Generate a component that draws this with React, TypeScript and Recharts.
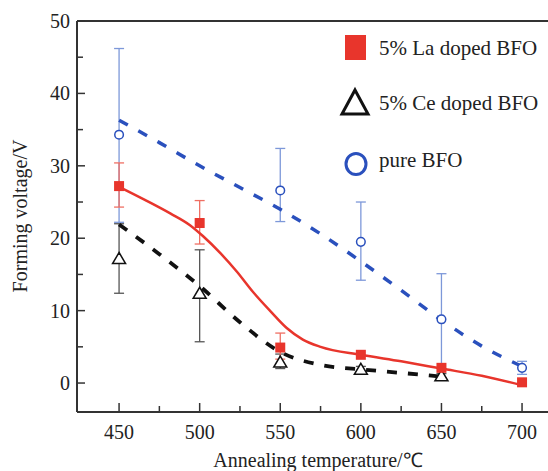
import { ComposedChart, Line, Scatter, ErrorBar, XAxis, YAxis, ReferenceLine, Legend } from 'recharts';

// measured points
const laTemps = [450, 500, 550, 600, 650, 700];
const laVals = [27.2, 22.1, 4.9, 3.9, 2.1, 0.1];
const laLow = [24.3, 19.2, 3.3, null, null, null];
const laHigh = [30.4, 25.2, 6.9, null, null, null];

const ceTemps = [450, 500, 550, 600, 650];
const ceVals = [17.2, 12.4, 2.9, 1.9, 1.0];
const ceLow = [12.4, 5.7, 2.0, 1.5, 0.7];
const ceHigh = [22.0, 18.4, 4.0, 2.3, 1.3];

const pureTemps = [450, 550, 600, 650, 700];
const pureVals = [34.3, 26.6, 19.5, 8.8, 2.1];
const pureLow = [22.2, 22.3, 14.2, 2.0, 1.2];
const pureHigh = [46.2, 32.4, 25.0, 15.1, 3.0];

// fitted curves
const laFitT = [450, 466, 482, 494, 502, 513, 523, 533, 544, 554, 564, 575, 600, 625, 650, 675, 700];
const laFitV = [27.1, 25.3, 23.4, 21.8, 20.3, 17.9, 15.4, 12.6, 9.9, 7.6, 6.0, 5.0, 3.9, 3.0, 2.0, 1.0, -0.3];
const ceFitT = [450, 475, 500, 525, 550, 575, 600, 625, 650];
const ceFitV = [21.9, 17.8, 13.4, 8.4, 4.3, 2.5, 1.9, 1.4, 0.9];
const pureFitT = [450, 475, 500, 525, 550, 575, 600, 625, 650, 675, 700];
const pureFitV = [36.3, 33.2, 30.0, 27.0, 24.0, 20.6, 16.8, 12.8, 8.7, 5.1, 2.3];

const xTicks = [450, 475, 500, 525, 550, 575, 600, 625, 650, 675, 700];
const yTicks = [0, 5, 10, 15, 20, 25, 30, 35, 40, 45, 50];

const FONT = '"Liberation Serif", "Times New Roman", serif';
const AXIS = '#333';
const RED = '#e8352c';
const BLUE = '#2a50bd';

function points(t: number[], v: number[], lo?: (number | null)[], hi?: (number | null)[]) {
  return t.map((x, i) => {
    const l = lo ? lo[i] : null;
    const h = hi ? hi[i] : null;
    return { x, y: v[i], err: l == null || h == null ? null : [v[i] - l, h - v[i]] };
  });
}

const laData = points(laTemps, laVals, laLow, laHigh);
const ceData = points(ceTemps, ceVals, ceLow, ceHigh);
const pureData = points(pureTemps, pureVals, pureLow, pureHigh);
const laFit = points(laFitT, laFitV);
const ceFit = points(ceFitT, ceFitV);
const pureFit = points(pureFitT, pureFitV);

const XTick = (props: any) => {
  const { x, y, payload } = props;
  const major = payload.value % 50 === 0;
  return (
    <g>
      <line x1={x} y1={y} x2={x} y2={y - (major ? 9 : 6)} stroke={AXIS} strokeWidth={1.5} />
      {major && (
        <text x={x} y={y + 27} textAnchor="middle" fontSize={20} fontFamily={FONT} fill="#222">
          {payload.value}
        </text>
      )}
    </g>
  );
};

const YTick = (props: any) => {
  const { x, y, payload } = props;
  const major = payload.value % 10 === 0;
  return (
    <g>
      <line x1={x} y1={y} x2={x + (major ? 8 : 6)} y2={y} stroke={AXIS} strokeWidth={1.5} />
      {major && (
        <text x={x - 7} y={y + 7} textAnchor="end" fontSize={20} fontFamily={FONT} fill="#222">
          {payload.value}
        </text>
      )}
    </g>
  );
};

const Square = ({ cx, cy }: any) => <rect x={cx - 5} y={cy - 5} width={10} height={10} fill={RED} />;
const Tri = ({ cx, cy }: any) => (
  <path d={`M${cx},${cy - 6} L${cx + 6.5},${cy + 5} L${cx - 6.5},${cy + 5} Z`} fill="#fff" stroke="#111" strokeWidth={1.5} />
);
const Ring = ({ cx, cy }: any) => <circle cx={cx} cy={cy} r={4.3} fill="#fff" stroke={BLUE} strokeWidth={1.5} />;

const legendRows = [
  { label: '5% La doped BFO', top: 0 },
  { label: '5% Ce doped BFO', top: 55 },
  { label: 'pure BFO', top: 112 },
];

const renderLegend = () => (
  <div style={{ position: 'relative', width: 213, height: 160, fontFamily: FONT, fontSize: 21, color: '#222' }}>
    <svg width={40} height={160} style={{ position: 'absolute', left: 0, top: 0 }}>
      <rect x={10} y={10} width={21} height={25} fill={RED} />
      <path d="M20,65 L33,89 L7,89 Z" fill="none" stroke="#111" strokeWidth={3} />
      <ellipse cx={21} cy={139} rx={10} ry={10.5} fill="none" stroke={BLUE} strokeWidth={3} />
    </svg>
    {legendRows.map((r) => (
      <div key={r.label} style={{ position: 'absolute', left: 44, top: r.top + 9, lineHeight: '28px', whiteSpace: 'nowrap' }}>
        {r.label}
      </div>
    ))}
  </div>
);

const YLabel = () => (
  <text
    x={20}
    y={216}
    transform="rotate(-90, 20, 216)"
    textAnchor="middle"
    dominantBaseline="central"
    fontSize={20}
    fontFamily={FONT}
    fill="#222"
  >
    Forming voltage/V
  </text>
);

const XLabel = () => (
  <text x={318} y={467} textAnchor="middle" fontSize={20} fontFamily={FONT} fill="#222">
    Annealing temperature/℃
  </text>
);

export default function App() {
  return (
    <div style={{ position: 'absolute', left: 0, top: 0, background: '#fff' }}>
      <ComposedChart width={548} height={471} margin={{ top: 21, right: 0, bottom: 0, left: 0 }}>
        <XAxis
          dataKey="x"
          type="number"
          domain={[423.9, 716.1]}
          allowDataOverflow
          ticks={xTicks}
          interval={0}
          tickSize={0}
          tickMargin={0}
          tickLine={false}
          tick={<XTick />}
          height={59}
          stroke={AXIS}
          strokeWidth={2}
          label={<XLabel />}
        />
        <YAxis
          dataKey="y"
          type="number"
          domain={[-4, 50]}
          allowDataOverflow
          ticks={yTicks}
          interval={0}
          tickSize={0}
          tickMargin={0}
          tickLine={false}
          tick={<YTick />}
          width={77}
          stroke={AXIS}
          strokeWidth={2}
          label={<YLabel />}
        />
        <ReferenceLine y={50} stroke={AXIS} strokeWidth={2} />
        <Legend
          layout="vertical"
          align="center"
          verticalAlign="middle"
          wrapperStyle={{ top: 25, left: 335, width: 213, height: 160 }}
          content={renderLegend}
        />
        <Scatter data={pureData} shape={<Ring />} isAnimationActive={false}>
          <ErrorBar dataKey="err" direction="y" width={5} stroke="#7d98d9" strokeWidth={1.3} />
        </Scatter>
        <Scatter data={ceData} shape={<Tri />} isAnimationActive={false}>
          <ErrorBar dataKey="err" direction="y" width={5} stroke="#555" strokeWidth={1.3} />
        </Scatter>
        <Scatter data={laData} shape={<Square />} isAnimationActive={false}>
          <ErrorBar dataKey="err" direction="y" width={5} stroke="#ef6f63" strokeWidth={1.3} />
        </Scatter>
        <Line data={pureFit} dataKey="y" type="monotone" stroke={BLUE} strokeWidth={3.5} strokeDasharray="10 12" dot={false} isAnimationActive={false} />
        <Line data={ceFit} dataKey="y" type="monotone" stroke="#111" strokeWidth={3.8} strokeDasharray="10 11" dot={false} isAnimationActive={false} />
        <Line data={laFit} dataKey="y" type="monotone" stroke={RED} strokeWidth={2.5} dot={false} isAnimationActive={false} />
      </ComposedChart>
    </div>
  );
}
